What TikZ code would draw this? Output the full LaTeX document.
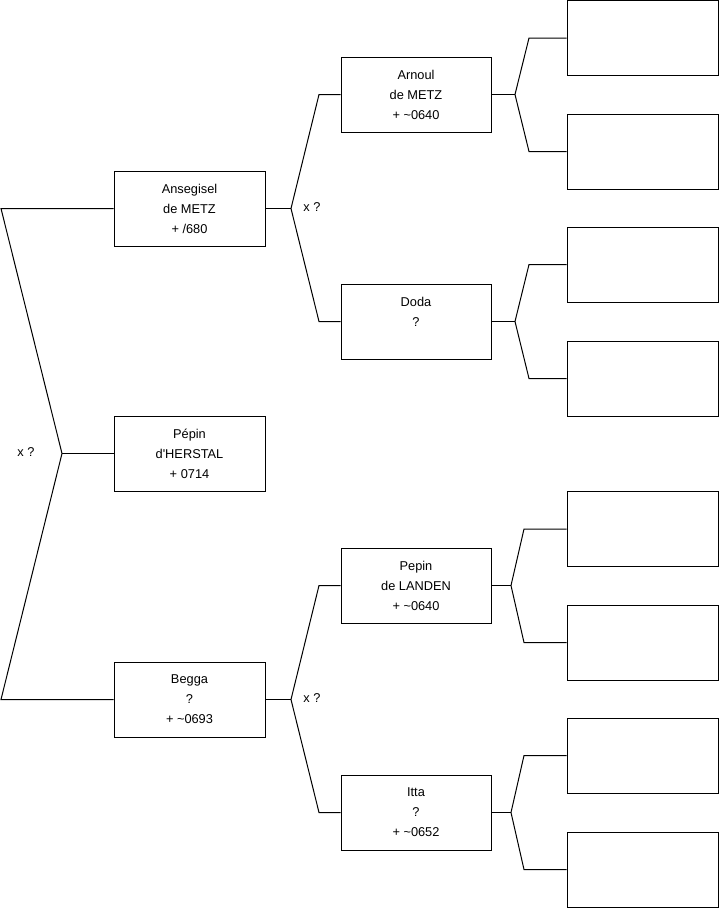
\documentclass[tikz,border=0pt]{standalone}
\usepackage{fontspec}
\setmainfont{Liberation Sans}
\begin{document}
\begin{tikzpicture}[x=1pt,y=-1pt,
  person/.style={draw, line width=1pt, minimum width=151pt, minimum height=75pt, inner sep=0pt, align=center, font=\fontsize{12.8}{20}\selectfont},
  anc/.style={draw, line width=1pt, minimum width=151pt, minimum height=75pt, inner sep=0pt},
  link/.style={line width=1pt},
  lab/.style={font=\fontsize{12.8}{14}\selectfont, inner sep=0pt}]
\useasboundingbox (0,0) rectangle (719,908);
% generation 1
\node[person] (ans) at (189.5,208.5) {Ansegisel\\de METZ\\+ /680};
\node[person] (pep) at (189.5,453.5) {Pépin\\d\textquotesingle HERSTAL\\+ 0714};
\node[person] (beg) at (189.5,699.5) {Begga\\?\\+ \textasciitilde0693};
% generation 2
\node[person, minimum width=150pt] (arn) at (416,94.5) {Arnoul\\de METZ\\+ \textasciitilde0640};
\node[person, minimum width=150pt] (dod) at (416,321.5) {Doda\\?\\\mbox{}};
\node[person, minimum width=150pt] (lan) at (416,585.5) {Pepin\\de LANDEN\\+ \textasciitilde0640};
\node[person, minimum width=150pt] (itt) at (416,812.5) {Itta\\?\\+ \textasciitilde0652};
% generation 3 (empty)
\node[anc] (r1) at (642.5,38) {};
\node[anc] (r2) at (642.5,151.5) {};
\node[anc] (r3) at (642.5,264.5) {};
\node[anc] (r4) at (642.5,378.5) {};
\node[anc] (r5) at (642.5,529) {};
\node[anc] (r6) at (642.5,642.5) {};
\node[anc] (r7) at (642.5,755.5) {};
\node[anc] (r8) at (642.5,869.5) {};
% junctions
\coordinate (lt) at (1,208.5);
\coordinate (lj) at (62,453.5);
\coordinate (lb) at (1,699.5);
\coordinate (aj) at (291,208.5);
\coordinate (at) at (319,94.5);
\coordinate (ab) at (319,321.5);
\coordinate (bj) at (291,699.5);
\coordinate (bt) at (319,585.5);
\coordinate (bb) at (319,812.5);
\coordinate (arj) at (515,94.5);
\coordinate (art) at (529,38);
\coordinate (arb) at (529,151.5);
\coordinate (doj) at (515,321.5);
\coordinate (dot) at (529,264.5);
\coordinate (dob) at (529,378.5);
\coordinate (laj) at (511,585.5);
\coordinate (lat) at (524,529);
\coordinate (lab) at (524,642.5);
\coordinate (itj) at (511,812.5);
\coordinate (itt2) at (524,755.5);
\coordinate (itb) at (524,869.5);
% connectors
\draw[link] (ans.west) -- (lt) -- (lj) -- (lb) -- (beg.west);
\draw[link] (lj) -- (pep.west);
\draw[link] (arn.west) -- (at) -- (aj) -- (ab) -- (dod.west);
\draw[link] (ans.east) -- (aj);
\draw[link] (lan.west) -- (bt) -- (bj) -- (bb) -- (itt.west);
\draw[link] (beg.east) -- (bj);
\draw[link] (r1.west) -- (art) -- (arj) -- (arb) -- (r2.west);
\draw[link] (arn.east) -- (arj);
\draw[link] (r3.west) -- (dot) -- (doj) -- (dob) -- (r4.west);
\draw[link] (dod.east) -- (doj);
\draw[link] (r5.west) -- (lat) -- (laj) -- (lab) -- (r6.west);
\draw[link] (lan.east) -- (laj);
\draw[link] (r7.west) -- (itt2) -- (itj) -- (itb) -- (r8.west);
\draw[link] (itt.east) -- (itj);
% labels
\node[lab] (x1) at (26,452) {x ?};
\node[lab] (x2) at (312,207) {x ?};
\node[lab] (x3) at (312,698) {x ?};
\end{tikzpicture}
\end{document}
